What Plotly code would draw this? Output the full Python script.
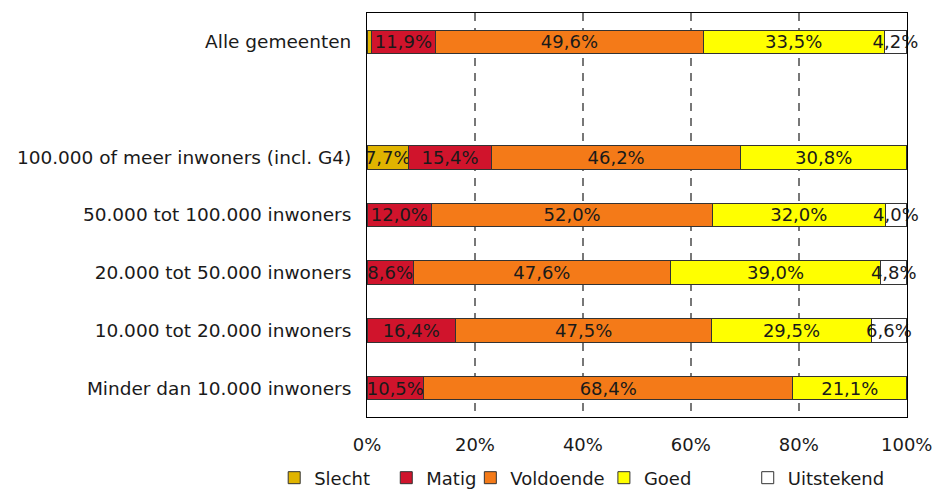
import plotly.graph_objects as go

categories = [
    "Alle gemeenten",
    " ",
    "100.000 of meer inwoners (incl. G4)",
    "50.000 tot 100.000 inwoners",
    "20.000 tot 50.000 inwoners",
    "10.000 tot 20.000 inwoners",
    "Minder dan 10.000 inwoners",
]

series_names = ["Slecht", "Matig", "Voldoende", "Goed", "Uitstekend"]
slecht = [0.8, None, 7.692, 0, 0, 0, 0]
matig = [11.9, None, 15.385, 12.0, 8.6, 16.4, 10.5]
voldoende = [49.6, None, 46.154, 52.0, 47.6, 47.5, 68.4]
goed = [33.5, None, 30.769, 32.0, 39.0, 29.5, 21.1]
uitstekend = [4.2, None, 0, 4.0, 4.8, 6.6, 0]

series_values = [slecht, matig, voldoende, goed, uitstekend]
colors = ["#E0B400", "#D0142C", "#F47A18", "#FFFF00", "#FFFFFF"]

x_tickvals = [0, 20, 40, 60, 80, 100]
x_ticktext = ["0%", "20%", "40%", "60%", "80%", "100%"]

FONT = "DejaVu Sans"
FS = 18
TXT = "#1a1a1a"

# legend positions (container fraction) for each series
legend_x = [0.285, 0.405, 0.495, 0.638, 0.792]


def fmt(v):
    if v is None or v < 2:
        return ""
    return f"{v:.1f}".replace(".", ",") + "%"


fig = go.Figure()
for i, (name, vals, col) in enumerate(zip(series_names, series_values, colors)):
    fig.add_trace(go.Bar(
        y=categories,
        x=vals,
        name=name,
        orientation="h",
        marker=dict(color=col, line=dict(color="#333333", width=1)),
        text=[fmt(v) for v in vals],
        textposition="inside",
        insidetextanchor="middle",
        textangle=0,
        constraintext="none",
        textfont=dict(family=FONT, size=FS, color=TXT),
        cliponaxis=False,
        hoverinfo="x+name",
        legend="legend" if i == 0 else f"legend{i + 1}",
    ))

legend_common = dict(
    orientation="h",
    xref="container",
    yref="container",
    xanchor="left",
    y=0.0229,
    yanchor="middle",
    font=dict(family=FONT, size=FS, color=TXT),
    itemwidth=30,
    bgcolor="rgba(0,0,0,0)",
)

layout_legends = {}
for i, lx in enumerate(legend_x):
    key = "legend" if i == 0 else f"legend{i + 1}"
    layout_legends[key] = dict(legend_common, x=lx)

fig.update_layout(
    barmode="stack",
    bargap=0.59,
    width=934,
    height=481,
    margin=dict(l=359, r=35, t=4, b=68),
    paper_bgcolor="white",
    plot_bgcolor="white",
    font=dict(family=FONT, size=FS, color=TXT),
    showlegend=True,
    xaxis=dict(
        range=[0, 100.05],
        tickvals=x_tickvals,
        ticktext=x_ticktext,
        showgrid=True,
        gridcolor="#777777",
        griddash="8px,7px",
        gridwidth=1.5,
        showline=True,
        linecolor="black",
        linewidth=1,
        mirror=True,
        zeroline=False,
        ticks="",
        ticklabelstandoff=12,
        tickfont=dict(family=FONT, size=FS, color=TXT),
        fixedrange=True,
    ),
    yaxis=dict(
        type="category",
        categoryorder="array",
        categoryarray=categories,
        autorange="reversed",
        showline=True,
        linecolor="black",
        linewidth=1,
        mirror=True,
        showgrid=False,
        ticks="",
        ticklabelstandoff=11,
        tickfont=dict(family=FONT, size=18.5, color=TXT),
        fixedrange=True,
    ),
    **layout_legends,
)

fig.write_html("out.html")
